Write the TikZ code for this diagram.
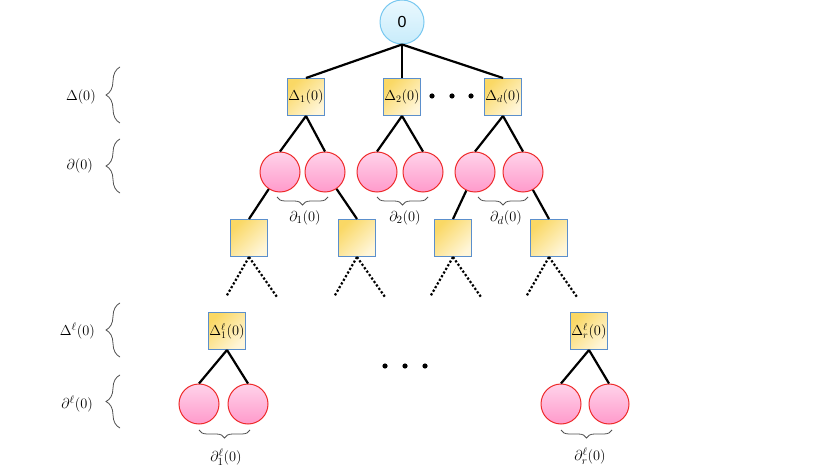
\documentclass[tikz,border=0pt]{standalone}
\usepackage{fontspec}
\newfontfamily\rootfont{Liberation Sans}
\usetikzlibrary{decorations.pathreplacing}
\definecolor{sqborder}{HTML}{5B8FCC}
\definecolor{sqdark}{HTML}{FAD865}
\definecolor{sqlight}{HTML}{FFF6D9}
\definecolor{pktop}{HTML}{FFD3EA}
\definecolor{pkbot}{HTML}{FF9ACB}
\definecolor{pkborder}{HTML}{EE2A2A}
\definecolor{bltop}{HTML}{EAF8FE}
\definecolor{blbot}{HTML}{C8ECFB}
\definecolor{blborder}{HTML}{78C8F0}
\definecolor{bracegray}{HTML}{505050}
\tikzset{
  sq/.style={draw=sqborder, line width=1pt, top color=sqdark, bottom color=sqlight, shading angle=45,
    minimum size=37pt, inner sep=0pt, font=\Large},
  pk/.style={circle, draw=pkborder, line width=1pt, top color=pktop, bottom color=pkbot,
    minimum size=40pt, inner sep=0pt},
  rootc/.style={circle, draw=blborder, line width=1pt, top color=bltop, bottom color=blbot,
    minimum size=44pt, inner sep=0pt, font=\rootfont\fontsize{16}{19}\selectfont},
  edge/.style={line width=2.2pt},
  dotedge/.style={line width=2.2pt, dotted},
  brc/.style={decorate, draw=bracegray, line width=0.8pt},
  lbl/.style={font=\fontsize{15.2}{18}\selectfont, inner sep=0pt, text=black},
  bigdot/.style={fill=black}
}
\begin{document}
\begin{tikzpicture}[x=1pt,y=-1pt]
\useasboundingbox (0,0) rectangle (830,470);
% root
\node[rootc] (root) at (402,22) {0};
% level 1 squares
\node[sq] (d1) at (306,97) {$\Delta_1(0)$};
\node[sq] (d2) at (402,97) {$\Delta_2(0)$};
\node[sq] (dd) at (503,97) {$\Delta_d(0)$};
\foreach \x in {432,452,471} \fill[bigdot] (\x,96) circle (2.6pt);
\draw[edge] (root.south) -- (d1.north);
\draw[edge] (root.south) -- (d2.north);
\draw[edge] (root.south) -- (dd.north);
% level 2 circles
\node[pk] (c1) at (280,172) {};
\node[pk] (c2) at (325,172) {};
\node[pk] (c3) at (377,172) {};
\node[pk] (c4) at (423,172) {};
\node[pk] (c5) at (475,172) {};
\node[pk] (c6) at (523,172) {};
\draw[edge] (d1.south) -- (c1.north);
\draw[edge] (d1.south) -- (c2.north);
\draw[edge] (d2.south) -- (c3.north);
\draw[edge] (d2.south) -- (c4.north);
\draw[edge] (dd.south) -- (c5.north);
\draw[edge] (dd.south) -- (c6.north);
% level 3 squares
\node[sq] (s1) at (249,238) {};
\node[sq] (s2) at (357,238) {};
\node[sq] (s3) at (453,238) {};
\node[sq] (s4) at (549,238) {};
\draw[edge] (c1) -- (s1.north);
\draw[edge] (c2) -- (s2.north);
\draw[edge] (c5) -- (s3.north);
\draw[edge] (c6) -- (s4.north);
% dotted continuations
\foreach \n/\x in {s1/249,s2/357,s3/453,s4/549}{
  \coordinate (\n l) at (\x-23,297);
  \coordinate (\n r) at (\x+28,297);
  \draw[dotedge] (\n.south) -- (\n l);
  \draw[dotedge] (\n.south) -- (\n r);
}
% braces under level 2
\draw[brc, decoration={brace, amplitude=8pt}] (328,197) -- (277,197);
\node[lbl] (p1) at (305,218) {$\partial_1(0)$};
\draw[brc, decoration={brace, amplitude=8pt}] (428,197) -- (377,197);
\node[lbl] (p2) at (405,218) {$\partial_2(0)$};
\draw[brc, decoration={brace, amplitude=8pt}] (528,197) -- (478,197);
\node[lbl] (pd) at (506,218) {$\partial_d(0)$};
% level ell
\node[sq] (L1) at (227,331) {$\Delta^\ell_1(0)$};
\node[sq] (Lr) at (589,331) {$\Delta^\ell_r(0)$};
\node[pk] (e1) at (199,404) {};
\node[pk] (e2) at (248,404) {};
\node[pk] (e3) at (561,404) {};
\node[pk] (e4) at (609,404) {};
\draw[edge] (L1.south) -- (e1.north);
\draw[edge] (L1.south) -- (e2.north);
\draw[edge] (Lr.south) -- (e3.north);
\draw[edge] (Lr.south) -- (e4.north);
\foreach \x in {385,405,425} \fill[bigdot] (\x,366) circle (2.6pt);
\draw[brc, decoration={brace, amplitude=8pt}] (250,430) -- (199,430);
\node[lbl] (q1) at (226,457) {$\partial^\ell_1(0)$};
\draw[brc, decoration={brace, amplitude=8pt}] (612,430) -- (561,430);
\node[lbl] (qr) at (590,456) {$\partial^\ell_r(0)$};
% left braces and labels
\draw[brc, decoration={brace, amplitude=14pt}] (120,123) -- (120,67);
\node[lbl, anchor=east] (a1) at (96,97) {$\Delta(0)$};
\draw[brc, decoration={brace, amplitude=14pt}] (120,193) -- (120,139);
\node[lbl, anchor=east] (a2) at (93,166) {$\partial(0)$};
\draw[brc, decoration={brace, amplitude=14pt}] (120,357) -- (120,303);
\node[lbl, anchor=east] (a3) at (95,331) {$\Delta^\ell(0)$};
\draw[brc, decoration={brace, amplitude=14pt}] (120,428) -- (120,375);
\node[lbl, anchor=east] (a4) at (93,404) {$\partial^\ell(0)$};
\end{tikzpicture}
\end{document}
